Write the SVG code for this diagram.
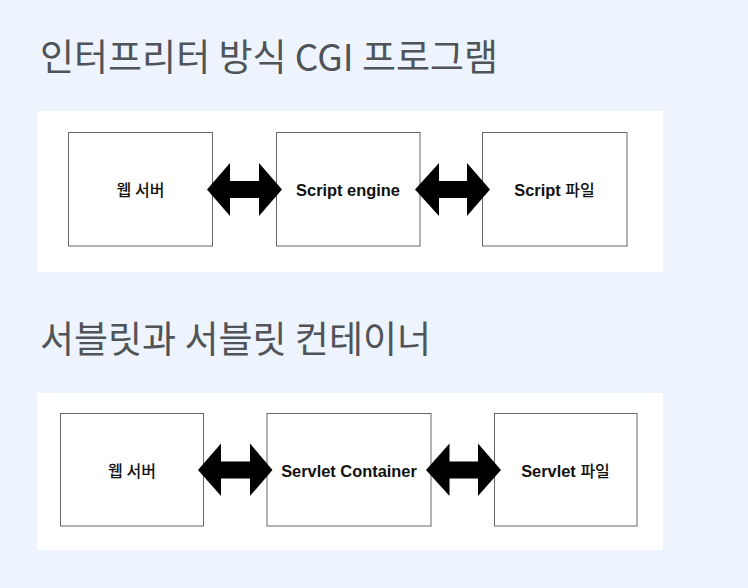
<svg xmlns="http://www.w3.org/2000/svg" width="748" height="588" viewBox="0 0 748 588">
<style>
.title{font-family:"Noto Sans CJK KR","Noto Sans",sans-serif;font-size:37px;fill:#505459}
.panel{fill:#ffffff}
.box{fill:#ffffff;stroke:#666666;stroke-width:1}
.lbl{font-family:"Liberation Sans","Noto Sans CJK KR",sans-serif;font-size:16.4px;font-weight:bold;fill:#111111;text-anchor:middle}
.ko{font-family:"Noto Sans CJK KR",sans-serif;font-weight:500;font-size:16px}
.arr{fill:#000000}
</style>
<rect width="748" height="588" fill="#eef4fd"/>
<text class="title" x="40" y="71">인터프리터 방식 CGI 프로그램</text>
<text class="title" x="40" y="353">서블릿과 서블릿 컨테이너</text>
<rect class="panel" x="37" y="111" width="626" height="161"/>
<rect class="panel" x="37" y="393" width="626" height="157"/>
<g id="web1"><rect class="box" x="68.5" y="132.5" width="144" height="113.5"/><text class="lbl" x="140.5" y="195.5"><tspan class="ko">웹 서버</tspan></text></g>
<g id="engine"><rect class="box" x="276.5" y="132.5" width="143.5" height="113.5"/><text class="lbl" x="348" y="195.5">Script engine</text></g>
<g id="scriptfile"><rect class="box" x="482.5" y="132.5" width="144.5" height="113.5"/><text class="lbl" x="554.5" y="195.5">Script <tspan class="ko">파일</tspan></text></g>
<g id="web2"><rect class="box" x="60.5" y="413.5" width="143" height="112.5"/><text class="lbl" x="132" y="476.5"><tspan class="ko">웹 서버</tspan></text></g>
<g id="container"><rect class="box" x="267" y="413.5" width="164" height="112.5"/><text class="lbl" x="349" y="476.5">Servlet Container</text></g>
<g id="servletfile"><rect class="box" x="494.5" y="413.5" width="142.5" height="112.5"/><text class="lbl" x="565.5" y="476.5">Servlet <tspan class="ko">파일</tspan></text></g>
<g id="connectors">
<path class="arr" d="M207,189.5 L230,163 L230,181 L259,181 L259,163 L282,189.5 L259,216 L259,198 L230,198 L230,216 Z"/>
<path class="arr" d="M415,189.5 L439,163 L439,181 L467,181 L467,163 L490,189.5 L467,216 L467,198 L439,198 L439,216 Z"/>
<path class="arr" d="M198,470 L221,443.5 L221,461.5 L250,461.5 L250,443.5 L272.5,470 L250,496 L250,478.5 L221,478.5 L221,496 Z"/>
<path class="arr" d="M426,470 L449.5,443.5 L449.5,461.5 L478,461.5 L478,443.5 L501,470 L478,496 L478,478.5 L449.5,478.5 L449.5,496 Z"/>
</g>
</svg>
